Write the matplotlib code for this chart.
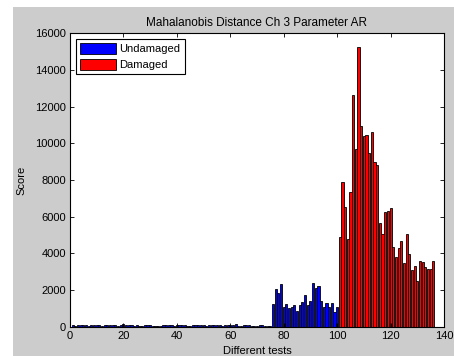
import matplotlib
matplotlib.use("Agg")
import matplotlib.pyplot as plt
from matplotlib.patches import Rectangle, Patch

plt.rcParams['font.family'] = ['Liberation Sans', 'DejaVu Sans']

# Data
undamaged_small = [80, 60, 90, 70, 100, 80, 60, 90, 70, 80,
                   90, 60, 80, 100, 70, 80, 90, 60, 80, 150,
                   90, 70, 80, 60, 90, 40, 30, 80, 90, 70,
                   40, 30, 50, 60, 80, 90, 70, 80, 60, 90,
                   100, 80, 70, 60, 30, 90, 80, 70, 100, 80,
                   60, 80, 90, 70, 80, 90, 60, 80, 70, 90,
                   80, 140, 30, 30, 70, 80, 90, 60, 30, 40,
                   90, 80, 60, 50, 40]
undamaged_large = [1220, 2050, 1850, 2310, 1050, 1240, 1040, 1090, 1180, 870,
                   1180, 1360, 1730, 1180, 1400, 2400, 2090, 2220, 1420, 1050,
                   1270, 1090, 1270, 820, 1050]
damaged = [4910, 7910, 6530, 4770, 7360, 12630, 9690, 15270, 10930, 10400,
           10450, 9470, 10600, 8980, 8840, 5640, 5050, 6270, 6330, 6490,
           4360, 3820, 4270, 4670, 3450, 5050, 3960, 3090, 3310, 2510,
           3580, 3510, 3240, 3160, 3130, 3600]

undamaged = undamaged_small + undamaged_large
x_und = list(range(1, len(undamaged) + 1))
x_dam = list(range(len(undamaged) + 1, len(undamaged) + len(damaged) + 1))

title = "Mahalanobis Distance Ch 3 Parameter AR"
xlabel = "Different tests"
ylabel = "Score"
xticks = [0, 20, 40, 60, 80, 100, 120, 140]
yticks = [0, 2000, 4000, 6000, 8000, 10000, 12000, 14000, 16000]

W, H = 454, 356
fig = plt.figure(figsize=(W / 100, H / 100), dpi=100, facecolor='#cccccc')
# white margins from the screenshot
fig.patches.append(Rectangle((0, 0), 13 / W, 1, transform=fig.transFigure,
                             facecolor='white', edgecolor='none', zorder=-10))
fig.patches.append(Rectangle((0, 1 - 7 / H), 1, 7 / H, transform=fig.transFigure,
                             facecolor='white', edgecolor='none', zorder=-10))

ax = fig.add_axes([70 / W, 1 - 326.7 / H, (444 - 70) / W, (326.7 - 33.3) / H])
ax.set_facecolor('white')

ax.bar(x_und, undamaged, width=0.8, color='#0000ff', edgecolor='black', linewidth=0.6)
ax.bar(x_dam, damaged, width=0.8, color='#ff0000', edgecolor='black', linewidth=0.6)

ax.set_xlim(0, 140)
ax.set_ylim(0, 16000)
ax.set_xticks(xticks)
ax.set_yticks(yticks)
ax.set_xticklabels([str(t) for t in xticks], fontsize=8)
ax.set_yticklabels([str(t) for t in yticks], fontsize=8)
ax.tick_params(direction='in', top=True, right=True, length=3, width=0.6, pad=3)
for s in ax.spines.values():
    s.set_linewidth(0.8)

ax.set_title(title, fontsize=8.5, pad=5)
ax.set_xlabel(xlabel, fontsize=8, labelpad=4)
ax.set_ylabel(ylabel, fontsize=8, labelpad=6)

handles = [Patch(facecolor='#0000ff', edgecolor='black', linewidth=0.6),
           Patch(facecolor='#ff0000', edgecolor='black', linewidth=0.6)]
leg = ax.legend(handles, ['Undamaged', 'Damaged'], loc='upper left',
                bbox_to_anchor=(0.016, 0.981), fontsize=8, fancybox=False,
                framealpha=1, edgecolor='black', handlelength=3.2,
                handleheight=1.1, handletextpad=0.3, borderpad=0.4,
                labelspacing=0.4, borderaxespad=0)
leg.get_frame().set_linewidth(0.8)

fig.savefig('out.png', dpi=100, facecolor=fig.get_facecolor())
